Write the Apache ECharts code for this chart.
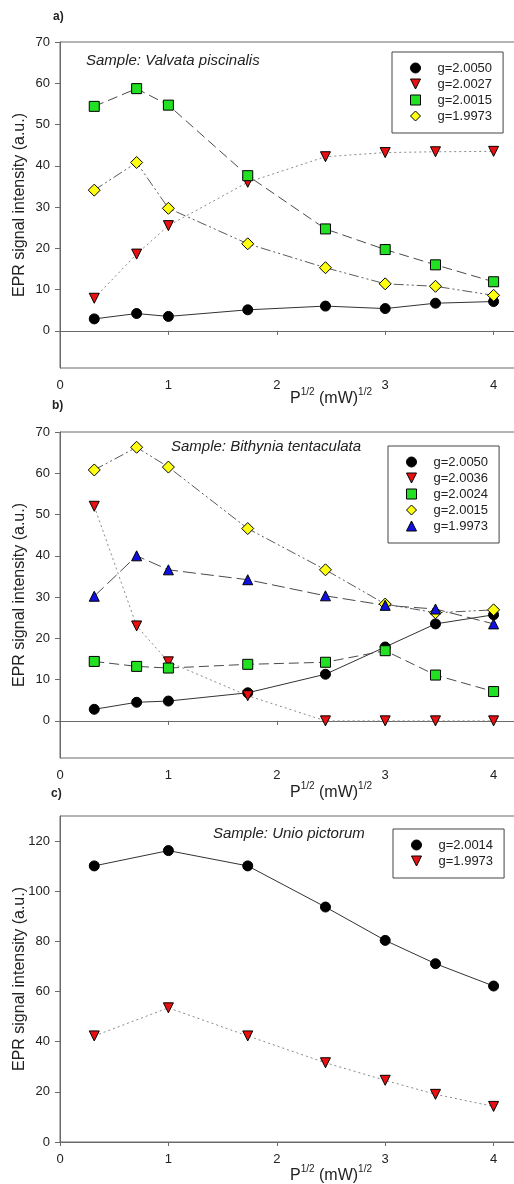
<!DOCTYPE html>
<html>
<head>
<meta charset="utf-8">
<script src="https://cdn.jsdelivr.net/npm/echarts@6/dist/echarts.min.js"></script>
<style>
html,body{margin:0;padding:0;background:#fff;}
#chart{width:514px;height:1184px;}
</style>
</head>
<body>
<div id="chart"></div>
<script>
// ---- data ----
const xA = [0.316, 0.707, 1, 1.732, 2.449, 3, 3.464, 4];
const xB = [0.316, 0.707, 1, 1.732, 2.449, 3, 3.464, 4];
const xC = [0.316, 1, 1.732, 2.449, 3, 3.464, 4];

const aNames = ['g=2.0050', 'g=2.0027', 'g=2.0015', 'g=1.9973'];
const a_g2_0050 = [2.9, 4.2, 3.5, 5.1, 6.0, 5.4, 6.7, 7.1];
const a_g2_0027 = [7.9, 18.6, 25.5, 36.0, 42.2, 43.2, 43.4, 43.5];
const a_g2_0015 = [54.4, 58.7, 54.7, 37.6, 24.7, 19.7, 16.0, 11.9];
const a_g1_9973 = [34.1, 40.8, 29.7, 21.1, 15.3, 11.4, 10.8, 8.6];

const bNames = ['g=2.0050', 'g=2.0036', 'g=2.0024', 'g=2.0015', 'g=1.9973'];
const b_g2_0050 = [2.8, 4.5, 4.8, 6.8, 11.3, 17.9, 23.5, 25.7];
const b_g2_0036 = [52.0, 23.0, 14.3, 6.1, 0, 0, 0, 0];
const b_g2_0024 = [14.4, 13.2, 12.8, 13.7, 14.2, 17.0, 11.1, 7.1];
const b_g2_0015 = [60.8, 66.3, 61.5, 46.6, 36.6, 28.3, 26.2, 26.9];
const b_g1_9973 = [30.2, 40.0, 36.6, 34.2, 30.3, 28.0, 27.1, 23.5];

const cNames = ['g=2.0014', 'g=1.9973'];
const c_g2_0014 = [110.1, 116.2, 110.1, 93.7, 80.4, 71.1, 62.2];
const c_g1_9973 = [42.3, 53.5, 42.3, 31.6, 24.6, 19.0, 14.2];

const xTicks = [0, 1, 2, 3, 4];
const yTicksAB = [0, 10, 20, 30, 40, 50, 60, 70];
const yTicksC = [0, 20, 40, 60, 80, 100, 120];

const sampleA = 'Sample: Valvata piscinalis';
const sampleB = 'Sample: Bithynia tentaculata';
const sampleC = 'Sample: Unio pictorum';
const yTitle = 'EPR signal intensity (a.u.)';

// ---- styles ----
const FONT = 'Liberation Sans, Arial, sans-serif';
const TXT = '#222';
const AX = '#6a6a6a';
const TRI_DOWN = 'path://M0,0 L10,0 L5,10 Z';
const TRI_UP = 'path://M5,0 L10,10 L0,10 Z';
const SQUARE = 'path://M0,0 L10,0 L10,10 L0,10 Z';
const DIAMOND = 'path://M5,0 L10,5 L5,10 L0,5 Z';
const mk = {
  circle: {symbol: 'circle', color: '#000', size: 10},
  tdown: {symbol: TRI_DOWN, color: '#e81010', size: 10},
  square: {symbol: SQUARE, color: '#22e022', size: 10},
  diamond: {symbol: DIAMOND, color: '#ffff10', size: 12},
  tup: {symbol: TRI_UP, color: '#1010e0', size: 10}
};
const ln = {
  solid: {type: 'solid', color: '#333'},
  dot: {type: [2, 3], color: '#8a8a8a'},
  dash: {type: [10, 5], color: '#4a4a4a'},
  ldash: {type: [13, 5], color: '#4a4a4a'},
  dadd: {type: [10, 3, 2, 3, 2, 3], color: '#5a5a5a'}
};

function zip(xs, ys) { return xs.map((x, i) => [x, ys[i]]); }

function ser(panel, name, idx, xs, ys, m, l) {
  return {
    type: 'line',
    name: panel + '|' + name,
    xAxisIndex: idx, yAxisIndex: idx,
    data: zip(xs, ys),
    symbol: m.symbol, symbolSize: m.size,
    itemStyle: {color: m.color, borderColor: '#000', borderWidth: 1},
    lineStyle: {type: l.type, color: l.color, width: 1},
    emphasis: {disabled: true},
    animation: false,
    z: 3
  };
}

const grids = [
  {left: 60, top: 42, width: 462, height: 326},
  {left: 60, top: 432, width: 462, height: 326},
  {left: 60, top: 816, width: 462, height: 326}
].map(g => Object.assign(g, {show: true, borderColor: AX, borderWidth: 1, outerBoundsMode: 'none', containLabel: false}));

const XMAX = 462 / 108.4;
const xNameGaps = [19, 23, 22];
const xAxes = [0, 1, 2].map(i => ({
  type: 'value', gridIndex: i, min: 0, max: XMAX,
  name: '{n|P}{s|1/2}{n| (mW)}{s|1/2}',
  nameLocation: 'middle', nameGap: xNameGaps[i], nameMoveOverlap: false,
  nameTextStyle: {
    padding: [0, 0, 0, 80],
    rich: {
      n: {fontSize: 16, fontFamily: FONT, color: TXT, lineHeight: 20, verticalAlign: 'bottom'},
      s: {fontSize: 10, fontFamily: FONT, color: TXT, lineHeight: 12, verticalAlign: 'top'}
    }
  },
  axisLine: {show: true, lineStyle: {color: AX, width: 1}},
  axisTick: {show: true, length: 4, customValues: xTicks, lineStyle: {color: AX}},
  axisLabel: {customValues: xTicks, fontSize: 13, fontFamily: FONT, color: TXT, margin: 11},
  splitLine: {show: false}
}));

const yAxes = [0, 1, 2].map(i => {
  const c = i === 2;
  const ticks = c ? yTicksC : yTicksAB;
  return {
    type: 'value', gridIndex: i,
    min: c ? 0 : -9, max: c ? 130 : 70,
    name: yTitle, nameLocation: 'middle', nameGap: 32, nameMoveOverlap: false,
    nameTextStyle: {fontSize: 16, fontFamily: FONT, color: TXT},
    axisLine: {show: true, lineStyle: {color: AX, width: 1}},
    axisTick: {show: true, length: 5, customValues: ticks, lineStyle: {color: AX}},
    axisLabel: {customValues: ticks, fontSize: 13, fontFamily: FONT, color: TXT, margin: 10},
    splitLine: {show: false}
  };
});

const series = [
  ser('a', aNames[0], 0, xA, a_g2_0050, mk.circle, ln.solid),
  ser('a', aNames[1], 0, xA, a_g2_0027, mk.tdown, ln.dot),
  ser('a', aNames[2], 0, xA, a_g2_0015, mk.square, ln.dash),
  ser('a', aNames[3], 0, xA, a_g1_9973, mk.diamond, ln.dadd),
  ser('b', bNames[0], 1, xB, b_g2_0050, mk.circle, ln.solid),
  ser('b', bNames[1], 1, xB, b_g2_0036, mk.tdown, ln.dot),
  ser('b', bNames[2], 1, xB, b_g2_0024, mk.square, ln.dash),
  ser('b', bNames[3], 1, xB, b_g2_0015, mk.diamond, ln.dadd),
  ser('b', bNames[4], 1, xB, b_g1_9973, mk.tup, ln.ldash),
  ser('c', cNames[0], 2, xC, c_g2_0014, mk.circle, ln.solid),
  ser('c', cNames[1], 2, xC, c_g1_9973, mk.tdown, ln.dot)
];

const iconOf = {circle: 'circle', tdown: TRI_DOWN, square: SQUARE, diamond: DIAMOND, tup: TRI_UP};
function legend(panel, names, icons, left, top) {
  return {
    left: left, top: top, orient: 'vertical',
    data: names.map((n, i) => ({name: panel + '|' + n, icon: iconOf[icons[i]]})),
    formatter: s => s.split('|')[1],
    itemWidth: 34, itemHeight: 10, itemGap: 2,
    symbolKeepAspect: true,
    padding: [9, 11, 10, 18],
    borderColor: '#444', borderWidth: 1, backgroundColor: '#fff',
    selectedMode: false,
    textStyle: {fontSize: 13, fontFamily: FONT, color: TXT, lineHeight: 14},
    itemStyle: {borderColor: '#000', borderWidth: 1}
  };
}

const legends = [
  legend('a', aNames, ['circle', 'tdown', 'square', 'diamond'], 392, 52),
  legend('b', bNames, ['circle', 'tdown', 'square', 'diamond', 'tup'], 388, 446),
  legend('c', cNames, ['circle', 'tdown'], 393, 829)
];

function label(t, x, y) {
  return {type: 'text', left: x, top: y, style: {text: t, font: 'bold 12px ' + FONT, fill: TXT}};
}
function sample(t, x, y) {
  return {type: 'text', left: x, top: y, style: {text: t, font: 'italic 15px ' + FONT, fill: TXT}};
}

const chart = echarts.init(document.getElementById('chart'), null, {renderer: 'canvas'});
chart.setOption({
  animation: false,
  backgroundColor: '#fff',
  grid: grids,
  xAxis: xAxes,
  yAxis: yAxes,
  legend: legends,
  series: series,
  graphic: [
    label('a)', 53, 11), label('b)', 52, 400), label('c)', 51, 788),
    sample(sampleA, 86, 53), sample(sampleB, 171, 439), sample(sampleC, 213, 826)
  ]
});
</script>
</body>
</html>
